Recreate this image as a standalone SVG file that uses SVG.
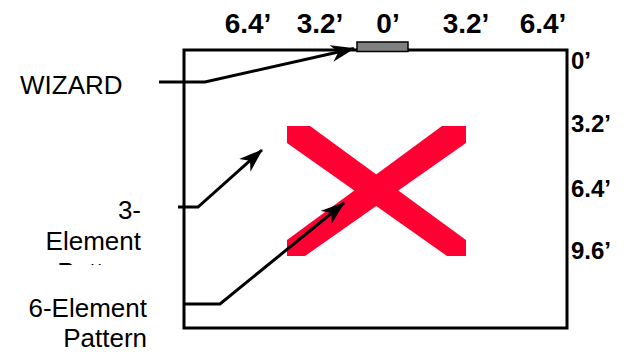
<svg xmlns="http://www.w3.org/2000/svg" width="629" height="352" viewBox="0 0 629 352">
<style>
.lbl{font-family:"Liberation Sans",Arial,sans-serif;font-size:26px;fill:#000}
.dim{font-family:"Liberation Sans",Arial,sans-serif;font-weight:bold;fill:#000}
.top{font-size:28px;text-anchor:middle}
.side{font-size:24px}
.conn{fill:none;stroke:#000;stroke-width:3;stroke-linejoin:miter}
.x{fill:#ff0033}
</style>
<defs>
<marker id="ah" markerUnits="userSpaceOnUse" viewBox="-23 -9 24 18" refX="0" refY="0" markerWidth="24" markerHeight="18" orient="auto">
<path d="M1,0 L-23,-8.5 L-16,0 L-23,8.5 z" fill="#000"/>
</marker>
<clipPath id="clip3"><rect x="0" y="190" width="180" height="75"/></clipPath>
</defs>
<rect width="629" height="352" fill="#fff"/>
<g id="field">
<rect x="184" y="50" width="383" height="278" fill="none" stroke="#000" stroke-width="3"/>
</g>
<g id="wizard-bar">
<rect x="357" y="42" width="51" height="9.5" fill="#808080" stroke="#000" stroke-width="1.5"/>
</g>
<g id="x-mark">
<polygon class="x" points="287,126 310,126 466,240 466,256 447,256 287,143"/>
<polygon class="x" points="442,126 466,126 466,143 305,256 287,256 287,240"/>
</g>
<g id="top-scale" class="dim top">
<text x="248" y="33">6.4’</text>
<text x="320" y="33">3.2’</text>
<text x="388" y="33">0’</text>
<text x="466" y="33">3.2’</text>
<text x="543" y="33">6.4’</text>
</g>
<g id="side-scale" class="dim side">
<text x="571" y="69">0’</text>
<text x="571" y="132">3.2’</text>
<text x="571" y="197">6.4’</text>
<text x="571" y="259">9.6’</text>
</g>
<g id="label-wizard">
<text class="lbl" x="20" y="94">WIZARD</text>
</g>
<g id="label-3el" clip-path="url(#clip3)">
<text class="lbl" text-anchor="end" x="141" y="219">3-</text>
<text class="lbl" text-anchor="end" x="141" y="250">Element</text>
<text class="lbl" text-anchor="end" x="141" y="281">Pattern</text>
</g>
<g id="label-6el">
<text class="lbl" text-anchor="end" x="147" y="317">6-Element</text>
<text class="lbl" text-anchor="end" x="147" y="347">Pattern</text>
</g>
<g id="connectors">
<polyline class="conn" points="159,82 205,82 354,48.5" marker-end="url(#ah)"/>
<polyline class="conn" points="178,207 198,207 262,150" marker-end="url(#ah)"/>
<polyline class="conn" points="184,304 220,304 344,203" marker-end="url(#ah)"/>
</g>
</svg>
